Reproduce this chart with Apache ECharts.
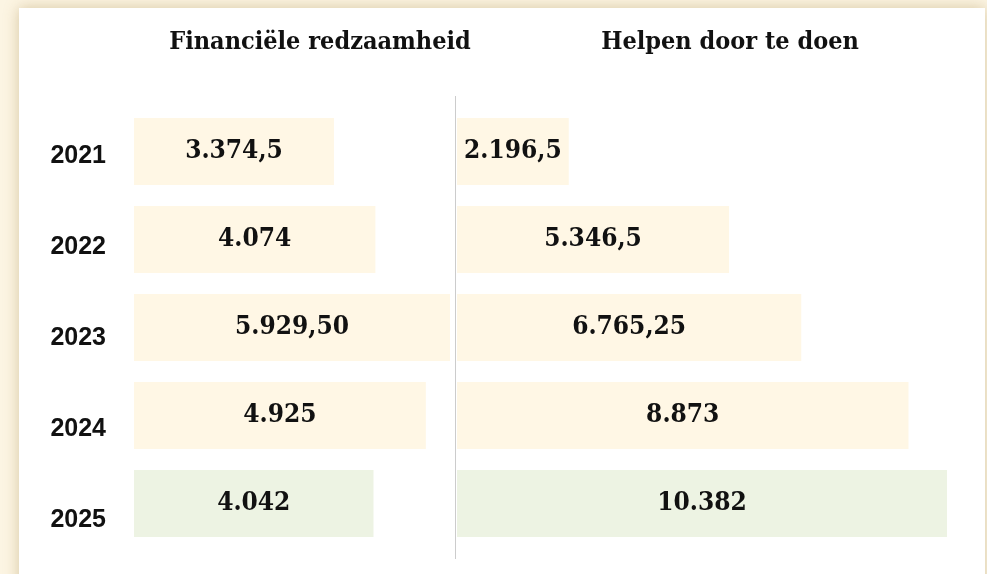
<!DOCTYPE html>
<html>
<head>
<meta charset="utf-8">
<script src="https://cdn.jsdelivr.net/npm/echarts@6/dist/echarts.min.js"></script>
<style>
  html, body { margin: 0; padding: 0; width: 987px; height: 574px; overflow: hidden; background: #fcf5e3; }
  #card { position: absolute; left: 19px; top: 8px; width: 966px; height: 600px; background: #ffffff;
          box-shadow: 0 0 14px rgba(170, 140, 80, 0.45); }
  #chart { position: absolute; left: 0; top: 0; width: 987px; height: 574px; }
</style>
</head>
<body>
<div id="card"></div>
<div id="chart"></div>
<script>
const years = ['2021', '2022', '2023', '2024', '2025'];
const titleLeft = 'Financiële redzaamheid';
const titleRight = 'Helpen door te doen';
const valuesLeft = [3374.5, 4074, 5929.5, 4925, 4042];
const labelsLeft = ['3.374,5', '4.074', '5.929,50', '4.925', '4.042'];
const valuesRight = [2196.5, 5346.5, 6765.25, 8873, 10382];
const labelsRight = ['2.196,5', '5.346,5', '6.765,25', '8.873', '10.382'];
const highlightYear = '2025';

const CREAM = '#fff7e5';
const GREEN = '#edf3e3';
const SLAB = "'DejaVu Serif Condensed', 'DejaVu Serif', serif";
const SLAB_WEIGHT = 'bold condensed';

function seriesData(values, labels) {
  return values.map((v, i) => ({
    value: v,
    itemStyle: { color: years[i] === highlightYear ? GREEN : CREAM },
    label: { formatter: labels[i] }
  }));
}

const chart = echarts.init(document.getElementById('chart'), null, { renderer: 'canvas' });
const barLabel = {
  show: true, position: 'inside', color: '#111111',
  fontFamily: SLAB, fontWeight: SLAB_WEIGHT, fontSize: 26
};
chart.setOption({
  backgroundColor: 'transparent',
  animation: false,
  title: [
    { text: titleLeft, left: 315, top: 25, textAlign: 'center',
      textStyle: { fontFamily: SLAB, fontWeight: SLAB_WEIGHT, fontSize: 25, color: '#111' } },
    { text: titleRight, left: 725, top: 25, textAlign: 'center',
      textStyle: { fontFamily: SLAB, fontWeight: SLAB_WEIGHT, fontSize: 25, color: '#111' } }
  ],
  grid: [
    { left: 134, top: 107.5, width: 316, height: 440, containLabel: false },
    { left: 457, top: 107.5, width: 490, height: 440, containLabel: false },
    { left: 108, top: 111, width: 1, height: 454.5, containLabel: false }
  ],
  xAxis: [
    { gridIndex: 0, type: 'value', min: 0, max: 5333, show: false },
    { gridIndex: 1, type: 'value', min: 0, max: 9630, show: false },
    { gridIndex: 2, type: 'value', min: 0, max: 1, show: false }
  ],
  yAxis: [
    { gridIndex: 0, type: 'category', data: years, inverse: true, show: false },
    { gridIndex: 1, type: 'category', data: years, inverse: true, show: false },
    { gridIndex: 2, type: 'category', data: years, inverse: true,
      axisLine: { show: false }, axisTick: { show: false },
      axisLabel: { show: true, margin: 2, color: '#111111', fontFamily: "'Liberation Sans', Arial, sans-serif",
                   fontWeight: 'bold', fontSize: 25 } }
  ],
  graphic: [
    { type: 'line', z: 100, shape: { x1: 455.5, y1: 96, x2: 455.5, y2: 559 },
      style: { stroke: '#cccccc', lineWidth: 1 }, silent: true }
  ],
  series: [
    { type: 'bar', xAxisIndex: 0, yAxisIndex: 0, barWidth: 67, clip: true,
      data: seriesData(valuesLeft, labelsLeft), label: barLabel },
    { type: 'bar', xAxisIndex: 1, yAxisIndex: 1, barWidth: 67, clip: true,
      data: seriesData(valuesRight, labelsRight), label: barLabel }
  ]
});
</script>
</body>
</html>
